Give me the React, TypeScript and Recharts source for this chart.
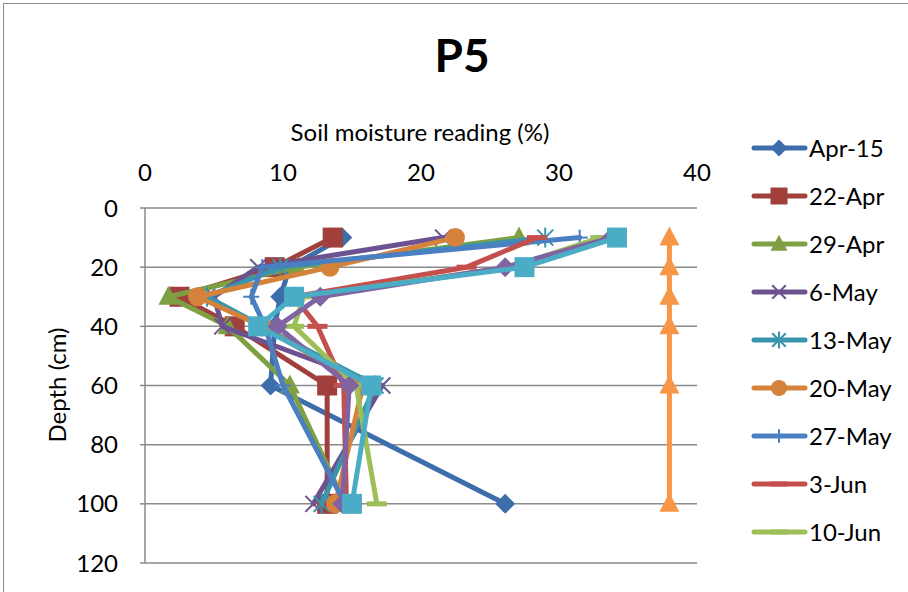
import React from "react";
import { ScatterChart, Scatter, XAxis, YAxis, CartesianGrid } from "recharts";

// depth of each reading (cm)
const depths = [10, 20, 30, 40, 60, 100];

// soil moisture (%) per sampling date, one value per depth
const apr15 = [14.3, 10.5, 9.8, 9.4, 9.1, 26.1];
const apr22 = [13.6, 9.4, 2.5, 6.5, 13.2, 13.2];
const apr29 = [27.1, 11.0, 1.7, 6.0, 10.5, 14.5];
const may6 = [21.6, 8.2, 5.0, 5.6, 17.2, 12.2];
const may13 = [29.0, 9.8, 4.5, 8.5, 16.7, 12.8];
const may20 = [22.5, 13.4, 3.8, 8.5, 15.8, 13.8];
const may27 = [31.5, 8.5, 7.7, 8.7, 10.0, 14.5];
const jun3 = [28.4, 23.3, 10.8, 12.5, 14.4, 14.6];
const jun10 = [33.0, 26.5, 11.5, 10.8, 15.3, 16.8];
const jun17 = [33.8, 26.1, 12.7, 9.6, 14.8, 14.3];
const jun24 = [34.2, 27.5, 10.8, 8.2, 16.4, 15.0];
const jul1 = [38, 38, 38, 38, 38, 38];

const xTicks = [0, 10, 20, 30, 40];
const yTicks = [0, 20, 40, 60, 80, 100, 120];

type Shape = "diamond" | "square" | "triangle" | "x" | "star" | "circle" | "plus" | "dash";

interface Series {
  name: string;
  values: number[];
  color: string;
  shape: Shape;
  inLegend: boolean;
}

const series: Series[] = [
  { name: "Apr-15", values: apr15, color: "#3d6ea9", shape: "diamond", inLegend: true },
  { name: "22-Apr", values: apr22, color: "#a03f3c", shape: "square", inLegend: true },
  { name: "29-Apr", values: apr29, color: "#7f9f43", shape: "triangle", inLegend: true },
  { name: "6-May", values: may6, color: "#6c5290", shape: "x", inLegend: true },
  { name: "13-May", values: may13, color: "#3895ad", shape: "star", inLegend: true },
  { name: "20-May", values: may20, color: "#d5823a", shape: "circle", inLegend: true },
  { name: "27-May", values: may27, color: "#4a7fc1", shape: "plus", inLegend: true },
  { name: "3-Jun", values: jun3, color: "#c4504d", shape: "dash", inLegend: true },
  { name: "10-Jun", values: jun10, color: "#9dbf57", shape: "dash", inLegend: true },
  { name: "17-Jun", values: jun17, color: "#8064a2", shape: "diamond", inLegend: false },
  { name: "24-Jun", values: jun24, color: "#4bacc6", shape: "square", inLegend: false },
  { name: "1-Jul", values: jul1, color: "#f79646", shape: "triangle", inLegend: false },
];

const FONT = "Lato, 'Open Sans', sans-serif";

function Marker({ shape, color, cx, cy, k = 1 }: { shape: Shape; color: string; cx: number; cy: number; k?: number }) {
  const h = 10 * k;
  switch (shape) {
    case "diamond":
      return <polygon points={`${cx},${cy - h} ${cx + h},${cy} ${cx},${cy + h} ${cx - h},${cy}`} fill={color} />;
    case "square":
      return <rect x={cx - h} y={cy - h} width={2 * h} height={2 * h} fill={color} />;
    case "triangle":
      return <polygon points={`${cx},${cy - 1.1 * h} ${cx + h},${cy + 0.8 * h} ${cx - h},${cy + 0.8 * h}`} fill={color} />;
    case "circle":
      return <circle cx={cx} cy={cy} r={0.95 * h} fill={color} />;
    case "x":
      return (
        <g stroke={color} strokeWidth={2}>
          <line x1={cx - 0.8 * h} y1={cy - 0.8 * h} x2={cx + 0.8 * h} y2={cy + 0.8 * h} />
          <line x1={cx - 0.8 * h} y1={cy + 0.8 * h} x2={cx + 0.8 * h} y2={cy - 0.8 * h} />
        </g>
      );
    case "star":
      return (
        <g stroke={color} strokeWidth={2}>
          <line x1={cx - 0.8 * h} y1={cy - 0.8 * h} x2={cx + 0.8 * h} y2={cy + 0.8 * h} />
          <line x1={cx - 0.8 * h} y1={cy + 0.8 * h} x2={cx + 0.8 * h} y2={cy - 0.8 * h} />
          <line x1={cx} y1={cy - h} x2={cx} y2={cy + h} />
        </g>
      );
    case "plus":
      return (
        <g stroke={color} strokeWidth={2}>
          <line x1={cx - 0.8 * h} y1={cy} x2={cx + 0.8 * h} y2={cy} />
          <line x1={cx} y1={cy - 0.8 * h} x2={cx} y2={cy + 0.8 * h} />
        </g>
      );
    case "dash":
      return <rect x={cx - h} y={cy - 2.5} width={2 * h} height={5} fill={color} />;
  }
  return null;
}

export default function App() {
  return (
    <div style={{ position: "absolute", left: 0, top: 0, width: 908, height: 592, background: "#fff", overflow: "hidden" }}>
      <div style={{ position: "absolute", left: 3, top: 3, width: 1000, height: 1000, borderLeft: "1.5px solid #8a8a8a", borderTop: "1.5px solid #8a8a8a" }} />
      <ScatterChart width={908} height={592} margin={{ top: 168, right: 211, bottom: 29, left: 85 }}>
        <CartesianGrid vertical={false} stroke="#8a8a8a" strokeWidth={1.5} />
        <XAxis
          type="number"
          dataKey="m"
          orientation="top"
          domain={[0, 40]}
          ticks={xTicks}
          height={40}
          axisLine={false}
          tickLine={false}
          tickSize={0}
          tickMargin={27}
          tick={{ fill: "#000", fontSize: 24, fontFamily: FONT }}
        />
        <YAxis
          type="number"
          dataKey="d"
          reversed
          domain={[0, 120]}
          ticks={yTicks}
          width={60}
          axisLine={{ stroke: "#8a8a8a", strokeWidth: 1.5 }}
          tickLine={{ stroke: "#8a8a8a", strokeWidth: 1.5 }}
          tickSize={5}
          tickMargin={22}
          tick={{ fill: "#000", fontSize: 24, fontFamily: FONT }}
        />
        {series.map((s) => (
          <Scatter
            key={s.name}
            name={s.name}
            data={s.values.map((m, i) => ({ m, d: depths[i] }))}
            fill={s.color}
            line={{ strokeWidth: 5, strokeLinejoin: "round", strokeLinecap: "round" }}
            lineType="joint"
            isAnimationActive={false}
            shape={(p: any) => <Marker shape={s.shape} color={s.color} cx={p.cx} cy={p.cy} />}
          />
        ))}
      </ScatterChart>
      <svg width={908} height={592} style={{ position: "absolute", left: 0, top: 0, pointerEvents: "none" }} fontFamily={FONT}>
        <text x={462} y={72} textAnchor="middle" fontSize={46} fontWeight="bold" fill="#000">
          P5
        </text>
        <text x={420} y={141} textAnchor="middle" fontSize={24} fill="#000">
          Soil moisture reading (%)
        </text>
        <text x={66} y={385} textAnchor="middle" fontSize={24} fill="#000" transform="rotate(-90 66 385)">
          Depth (cm)
        </text>
        {series
          .filter((s) => s.inLegend)
          .map((s, i) => {
            const cy = 148 + i * 48;
            return (
              <g key={s.name}>
                <line x1={754} y1={cy} x2={805} y2={cy} stroke={s.color} strokeWidth={5} strokeLinecap="round" />
                <Marker shape={s.shape} color={s.color} cx={779} cy={cy} k={0.85} />
                <text x={809} y={cy + 8.5} fontSize={24} fill="#000">
                  {s.name}
                </text>
              </g>
            );
          })}
      </svg>
    </div>
  );
}
